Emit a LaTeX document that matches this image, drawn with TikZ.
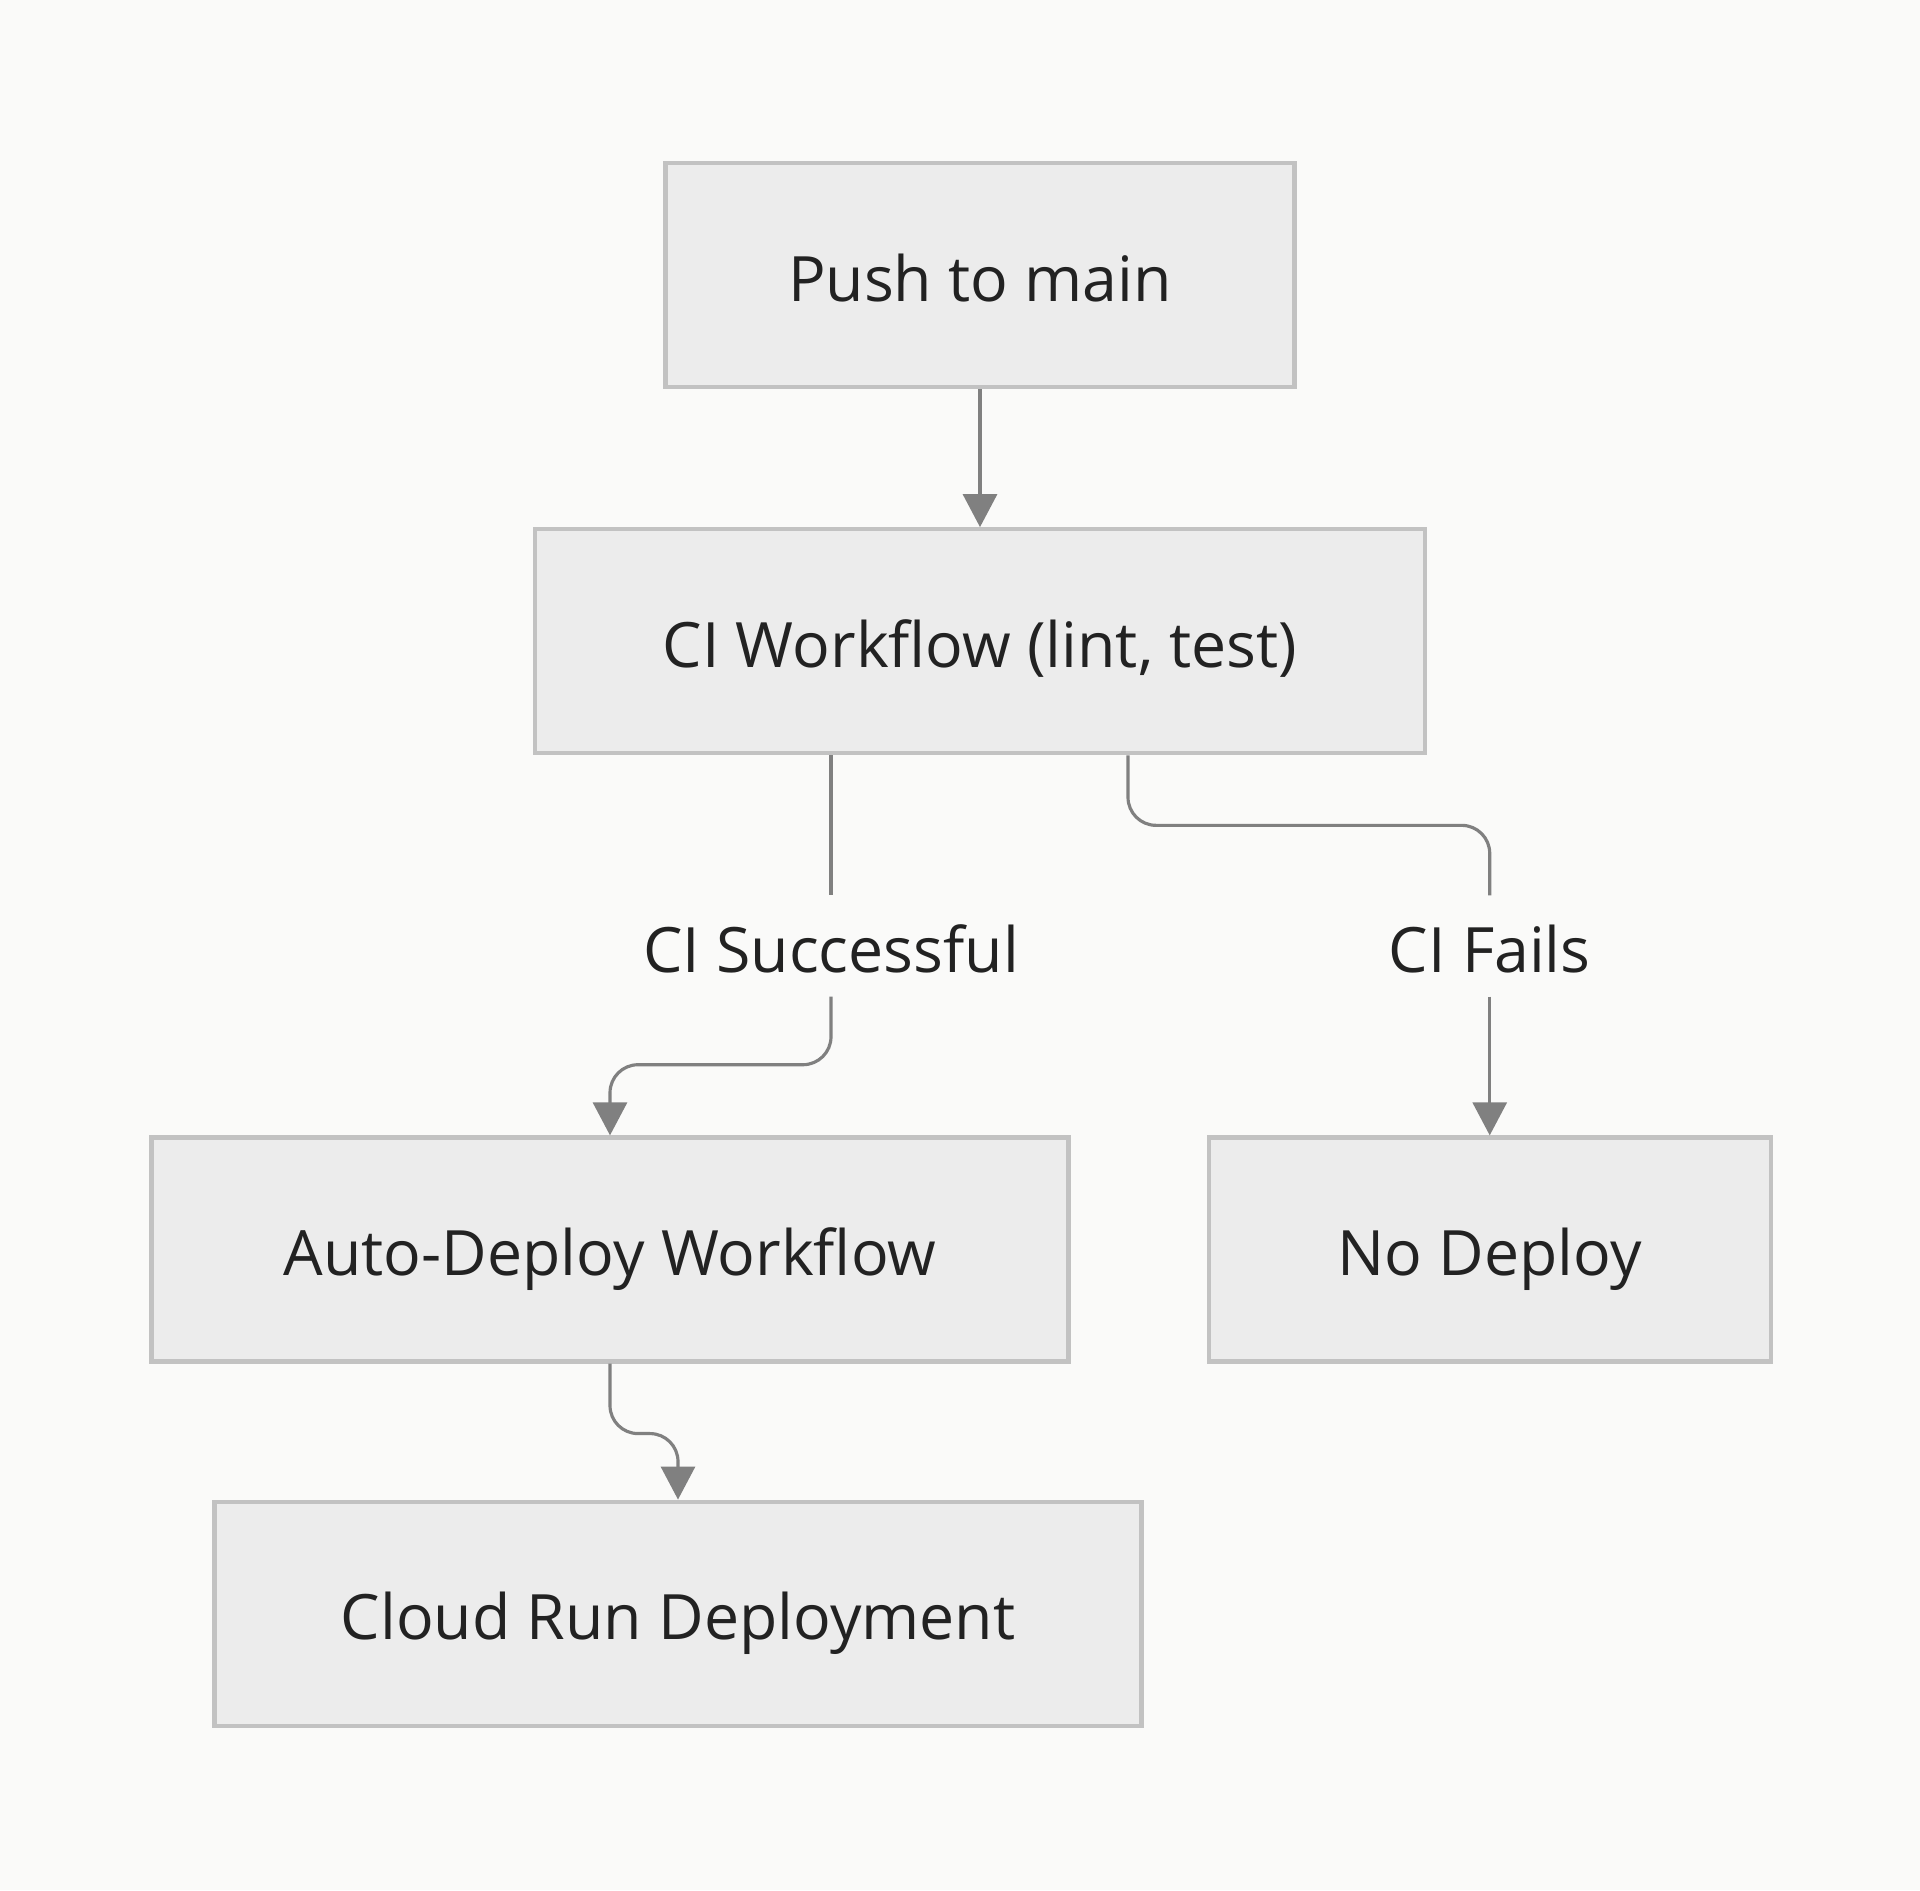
\documentclass[tikz,border=0pt]{standalone}
\usepackage{fontspec}
\setmainfont{Open Sans}
\usetikzlibrary{positioning,arrows.meta}

\definecolor{paper}{HTML}{FAFAF9}
\definecolor{boxfill}{HTML}{ECECEC}
\definecolor{boxline}{HTML}{C2C2C2}
\definecolor{flowgray}{HTML}{808080}
\definecolor{inkgray}{HTML}{222222}

\begin{document}
\begin{tikzpicture}[
    stepbox/.style={rectangle, draw=boxline, fill=boxfill, line width=1.2pt, minimum height=22.4mm, text=inkgray, text height=6.3mm, text depth=1.1mm, font=\fontsize{17.8}{21}\selectfont},
    edgelabel/.style={rectangle, minimum height=10mm, inner sep=0pt, text=inkgray, text height=6.3mm, text depth=1.1mm, font=\fontsize{17.8}{21}\selectfont},
    flow/.style={draw=flowgray, line width=0.9pt, rounded corners=2.8mm},
    flowarrow/.style={flow, -{Triangle[width=3.4mm, length=3.3mm]}},
]
%Background
\fill[paper] (0,0) rectangle (19.2,-18.9);

%Nodes
\node[stepbox, minimum width=6.29cm] (push) at (9.8,-2.75) {Push to main};
\node[stepbox, minimum width=8.9cm] (ci) [below=1.38cm of push] {CI Workflow (lint, test)};
\node[stepbox, minimum width=9.17cm] (auto) [below=3.8cm of ci, xshift=-3.7cm] {Auto-Deploy Workflow};
\node[stepbox, minimum width=5.62cm] (nodeploy) [right=1.36cm of auto] {No Deploy};
\node[stepbox, minimum width=9.27cm] (cloud) [below=1.36cm of auto, xshift=0.68cm] {Cloud Run Deployment};

\node[edgelabel] (succ) at (8.31,-9.46) {CI Successful};
\node[edgelabel] (fails) at (nodeploy |- succ) {CI Fails};

%Lines
\draw[flowarrow] (push) -- (ci);

\draw[flow] (succ.north |- ci.south) -- (succ.north);
\draw[flowarrow] (succ.south) -- ++(0,-0.68) -| (auto.north);

\draw[flow] ([xshift=1.48cm]ci.south) -- ++(0,-0.7) -| (fails.north);
\draw[flowarrow] (fails.south) -- (nodeploy.north);

\draw[flowarrow] (auto.south) -- ++(0,-0.7) -| (cloud.north);
\end{tikzpicture}
\end{document}
